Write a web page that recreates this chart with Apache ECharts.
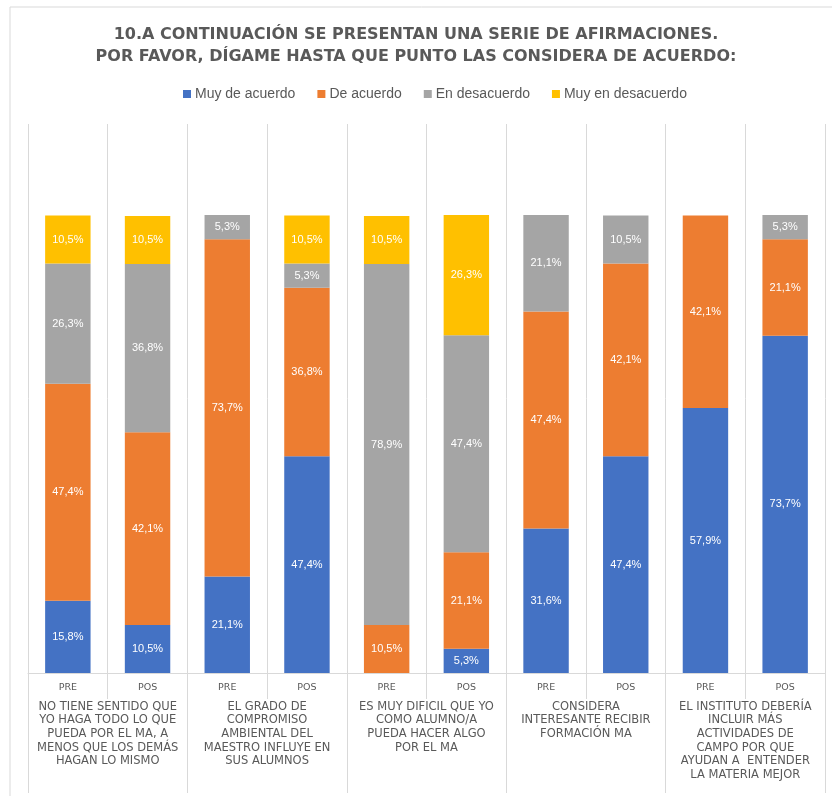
<!DOCTYPE html>
<html>
<head>
<meta charset="utf-8">
<script src="https://cdn.jsdelivr.net/npm/echarts@6/dist/echarts.min.js"></script>
<style>
  html, body { margin: 0; padding: 0; background: #ffffff; }
  #chart { width: 832px; height: 796px; }
</style>
</head>
<body>
<div id="chart"></div>
<script>
// ---- data ----
const titleLines = [
  '10.A CONTINUACIÓN SE PRESENTAN UNA SERIE DE AFIRMACIONES.',
  'POR FAVOR, DÍGAME HASTA QUE PUNTO LAS CONSIDERA DE ACUERDO:'
];
const barLabels = ['PRE', 'POS', 'PRE', 'POS', 'PRE', 'POS', 'PRE', 'POS', 'PRE', 'POS'];
const groupLabels = [
  'NO TIENE SENTIDO QUE\nYO HAGA TODO LO QUE\nPUEDA POR EL MA, A\nMENOS QUE LOS DEMÁS\nHAGAN LO MISMO',
  'EL GRADO DE\nCOMPROMISO\nAMBIENTAL DEL\nMAESTRO INFLUYE EN\nSUS ALUMNOS',
  'ES MUY DIFICIL QUE YO\nCOMO ALUMNO/A\nPUEDA HACER ALGO\nPOR EL MA',
  'CONSIDERA\nINTERESANTE RECIBIR\nFORMACIÓN MA',
  'EL INSTITUTO DEBERÍA\nINCLUIR MÁS\nACTIVIDADES DE\nCAMPO POR QUE\nAYUDAN A  ENTENDER\nLA MATERIA MEJOR'
];
const seriesNames = ['Muy de acuerdo', 'De acuerdo', 'En desacuerdo', 'Muy en desacuerdo'];
const muyDeAcuerdo     = [15.8, 10.5, 21.1, 47.4, 0,    5.3,  31.6, 47.4, 57.9, 73.7];
const deAcuerdo        = [47.4, 42.1, 73.7, 36.8, 10.5, 21.1, 47.4, 42.1, 42.1, 21.1];
const enDesacuerdo     = [26.3, 36.8, 5.3,  5.3,  78.9, 47.4, 21.1, 10.5, 0,    5.3];
const muyEnDesacuerdo  = [10.5, 10.5, 0,    10.5, 10.5, 26.3, 0,    0,    0,    0];
const seriesColors = ['#4472C4', '#ED7D31', '#A5A5A5', '#FFC000'];

const allValues = [muyDeAcuerdo, deAcuerdo, enDesacuerdo, muyEnDesacuerdo];

const chart = echarts.init(document.getElementById('chart'), null, { renderer: 'canvas' });

const gridLine = '#D9D9D9';
const textGray = '#595959';

const series = seriesNames.map((name, i) => ({
  name: name,
  type: 'bar',
  stack: 'total',
  xAxisIndex: 0,
  barWidth: '57%',
  itemStyle: { color: seriesColors[i] },
  label: {
    show: true,
    position: 'inside',
    color: '#ffffff',
    fontFamily: 'Liberation Sans',
    fontSize: 11,
    formatter: p => p.value.toFixed(1).replace('.', ',') + '%'
  },
  data: allValues[i].map(v => (v > 0 ? v : null))
}));

const option = {
  backgroundColor: '#ffffff',
  animation: false,
  graphic: [{
    type: 'rect',
    shape: { x: 10, y: 7, width: 900, height: 900 },
    style: { fill: 'none', stroke: gridLine, lineWidth: 1 },
    silent: true
  }],
  title: {
    text: titleLines.join('\n'),
    left: 'center',
    top: 19,
    textStyle: {
      fontFamily: 'DejaVu Sans',
      fontWeight: 'bold',
      fontSize: 16,
      lineHeight: 22,
      color: textGray
    }
  },
  legend: {
    data: seriesNames,
    top: 82,
    left: 178,
    icon: 'rect',
    itemWidth: 8,
    itemHeight: 8,
    itemGap: 22,
    textStyle: { color: textGray, fontSize: 14, fontFamily: 'Liberation Sans', padding: [0, 0, 0, -1] }
  },
  grid: { left: 28, right: 7, top: 124, bottom: 123, containLabel: false },
  xAxis: [
    {
      type: 'category',
      data: barLabels,
      position: 'bottom',
      axisLine: { show: true, lineStyle: { color: gridLine } },
      axisTick: { show: true, length: 26, lineStyle: { color: gridLine } },
      splitLine: { show: true, lineStyle: { color: gridLine } },
      axisLabel: { color: textGray, fontSize: 9.5, fontFamily: 'DejaVu Sans', margin: 10 }
    },
    {
      type: 'category',
      data: groupLabels,
      position: 'bottom',
      axisLine: { show: false },
      axisTick: { show: true, length: 120, lineStyle: { color: gridLine } },
      splitLine: { show: false },
      axisLabel: {
        color: textGray,
        fontSize: 11.5,
        fontFamily: 'DejaVu Sans',
        lineHeight: 13.6,
        margin: 27,
        interval: 0,
        align: 'center'
      }
    }
  ],
  yAxis: {
    type: 'value',
    min: 0,
    max: 120,
    show: false
  },
  series: series
};

chart.setOption(option);
</script>
</body>
</html>
